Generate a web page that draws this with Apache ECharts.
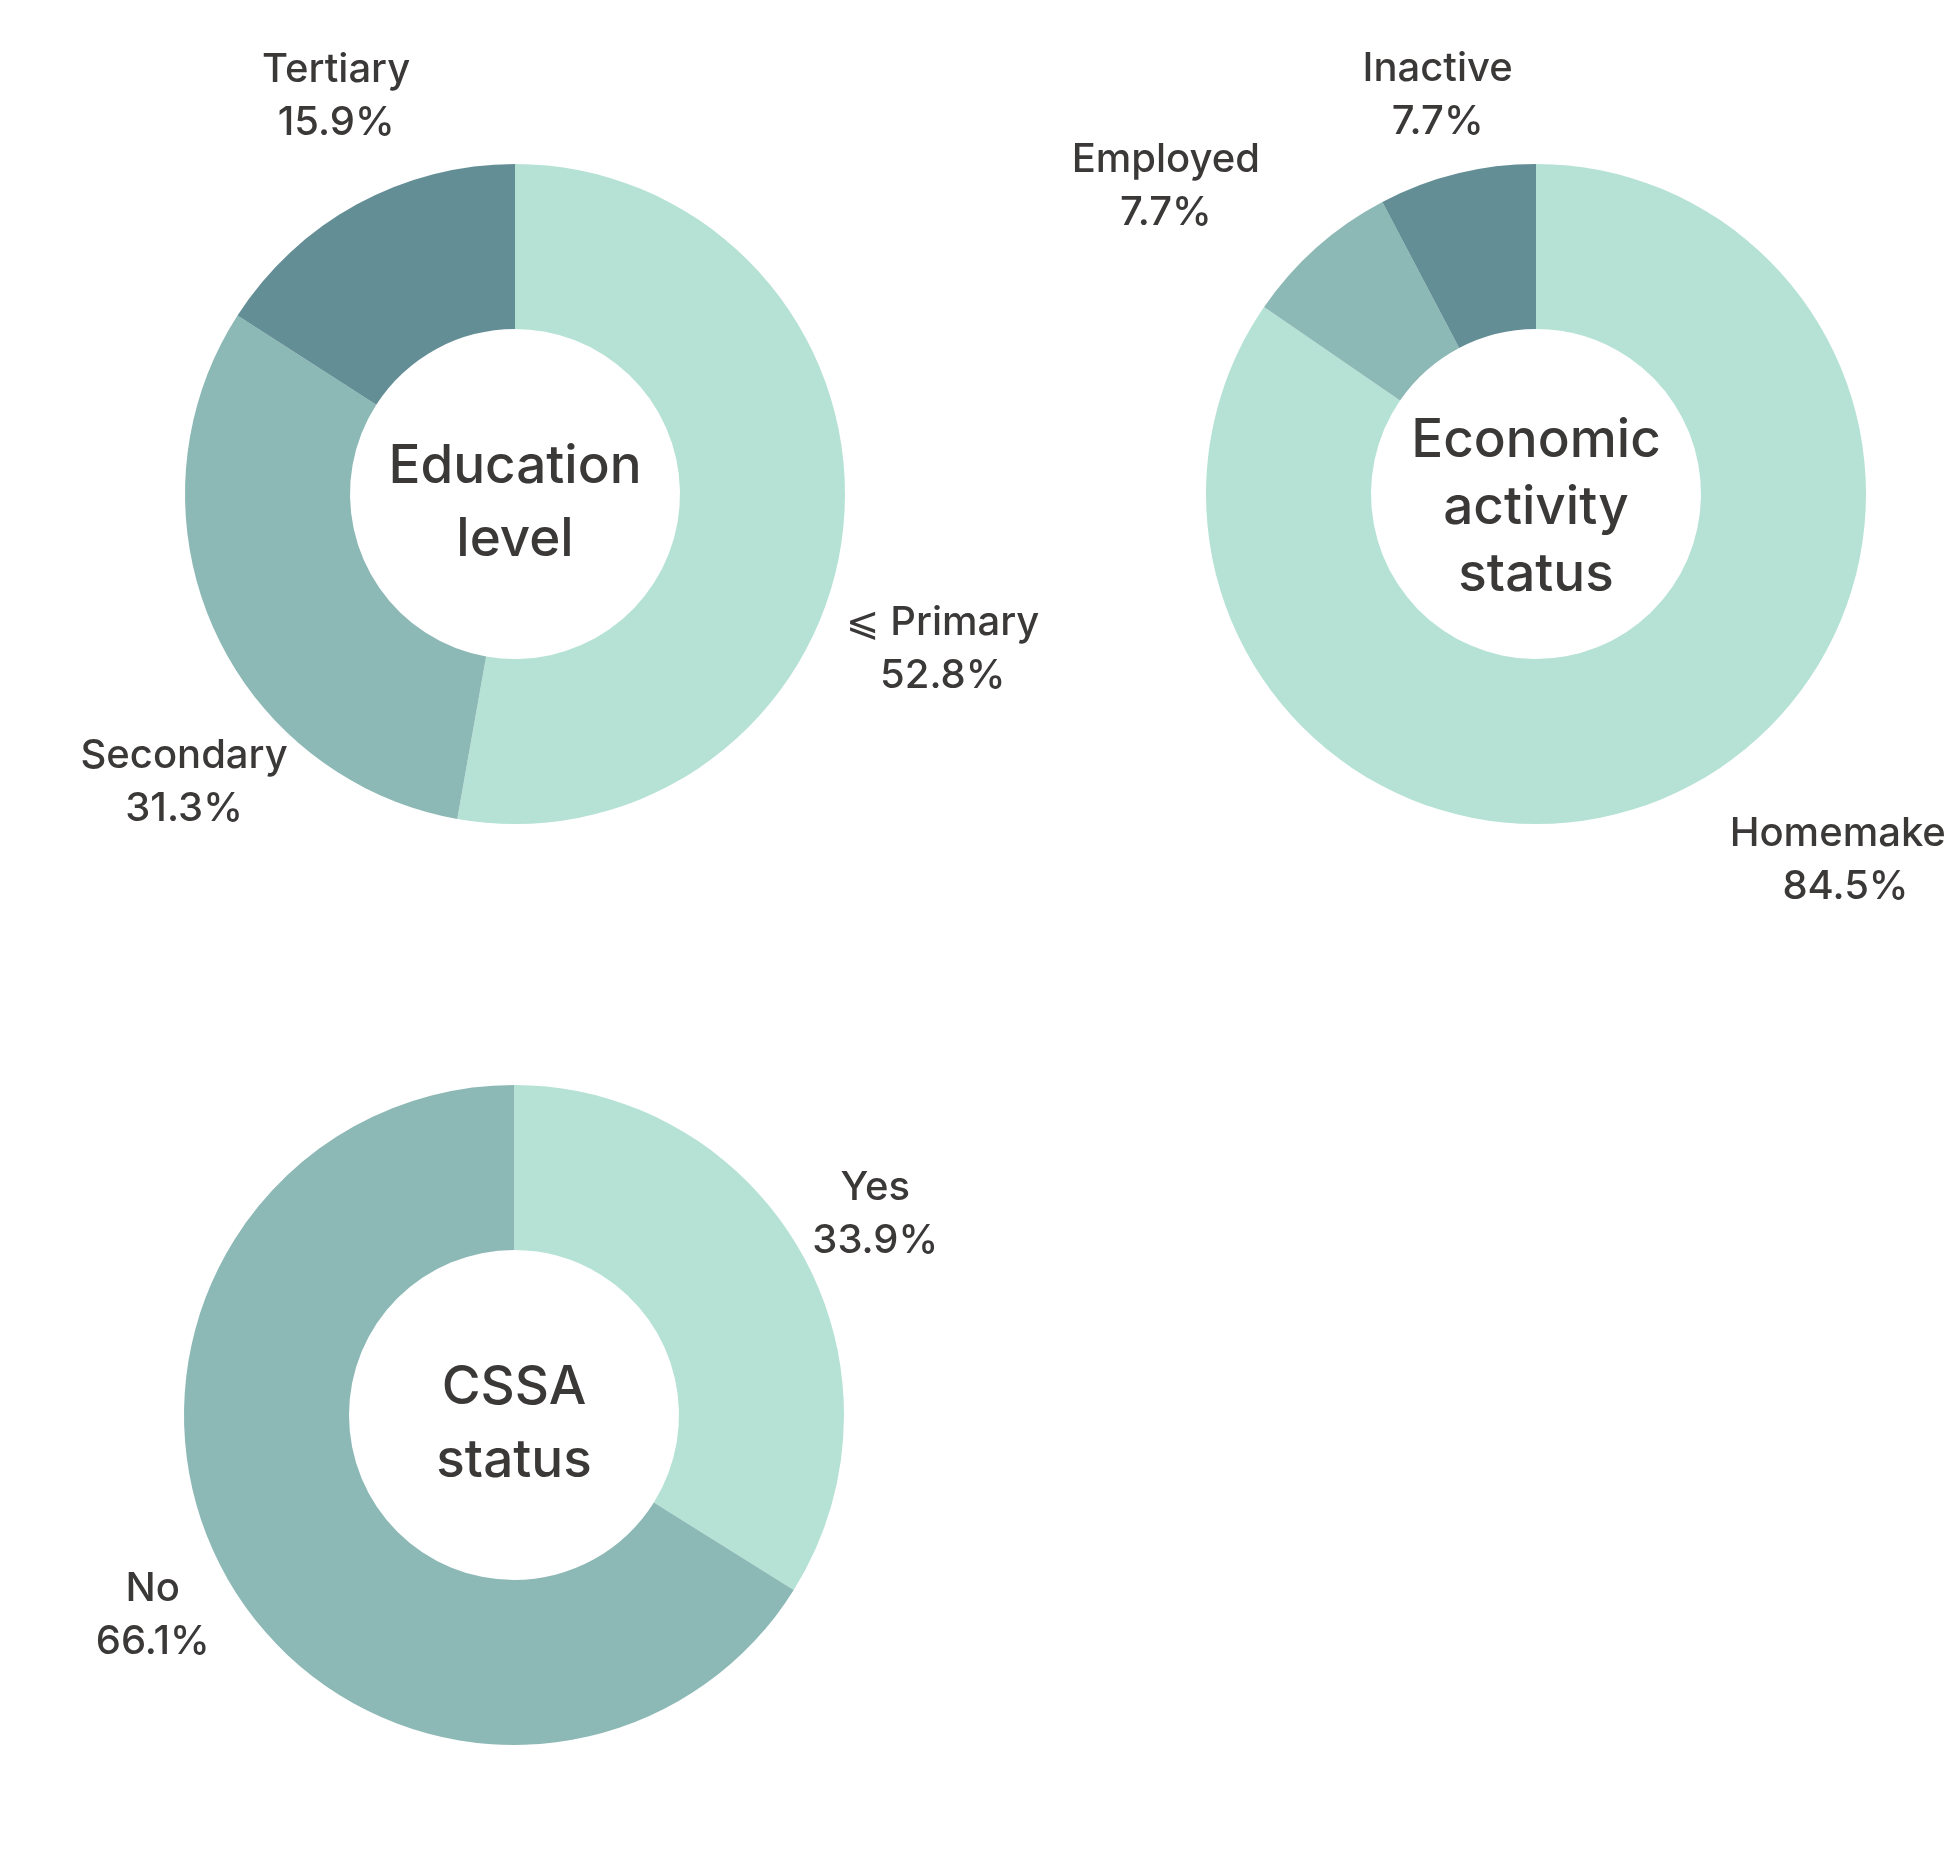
<!DOCTYPE html>
<html>
<head>
<meta charset="utf-8">
<script src="https://cdn.jsdelivr.net/npm/echarts@6/dist/echarts.min.js"></script>
<style>
html,body{margin:0;padding:0;background:#fff;}
#chart{width:1944px;height:1870px;}
</style>
</head>
<body>
<div id="chart"></div>
<script>
// ---- data ----
const eduCategories = ['\u2A7D Primary', 'Secondary', 'Tertiary'];
const eduValues = [52.8, 31.3, 15.9];
const econCategories = ['Homemaker', 'Employed', 'Inactive'];
const econValues = [84.5, 7.7, 7.7];
const cssaCategories = ['Yes', 'No'];
const cssaValues = [33.9, 66.1];
const centerTitles = ['Education\nlevel', 'Economic\nactivity\nstatus', 'CSSA\nstatus'];

// ---- layout / style ----
const COLORS = ['#b5e2d4', '#8cb8b6', '#648e96'];
const TEXT = '#3b3838';
const FONT = 'Inter, "DejaVu Sans", "Noto Sans", sans-serif';
const R_OUT = 330, R_IN = 165;
const CENTERS = [[515, 494], [1536, 494], [514, 1415]];
// label placement: [angle offset from slice mid-angle (deg), distance from centre (px)]
const LABEL_PLACE = [
  [[14.9, 455], [-17.5, 439], [4.4, 436]],
  [[-12.4, 480], [-8.7, 481], [0, 410]],
  [[0, 413], [0, 413]]
];
const CENTER_LH = [73, 67, 73];
const CENTER_DY = [10, 14, 10];

const seriesData = [
  [eduCategories, eduValues],
  [econCategories, econValues],
  [cssaCategories, cssaValues]
];

function midAngles(values) {
  const total = values.reduce((a, b) => a + b, 0);
  let acc = 0;
  return values.map(v => {
    const m = (acc + v / 2) / total * 360;
    acc += v;
    return m;
  });
}
const MIDS = seriesData.map(s => midAngles(s[1]));

const chart = echarts.init(document.getElementById('chart'), null, {renderer: 'canvas'});

const series = seriesData.map((s, si) => ({
  type: 'pie',
  center: CENTERS[si],
  radius: [R_IN, R_OUT],
  startAngle: 90,
  clockwise: true,
  avoidLabelOverlap: false,
  silent: true,
  animation: false,
  itemStyle: {borderWidth: 0},
  label: {
    show: true,
    position: 'outside',
    formatter: p => p.name + '\n' + p.value.toFixed(1) + '%',
    color: TEXT,
    fontFamily: FONT,
    fontSize: 40,
    fontWeight: 500,
    lineHeight: 53,
    align: 'center'
  },
  labelLine: {show: false},
  labelLayout: function (params) {
    const pl = LABEL_PLACE[si][params.dataIndex];
    const ang = (MIDS[si][params.dataIndex] + pl[0]) * Math.PI / 180;
    return {
      x: CENTERS[si][0] + pl[1] * Math.sin(ang),
      y: CENTERS[si][1] - pl[1] * Math.cos(ang),
      align: 'center',
      verticalAlign: 'middle'
    };
  },
  data: s[0].map((n, i) => ({name: n, value: s[1][i], itemStyle: {color: COLORS[i]}}))
}));

const graphics = centerTitles.map((t, i) => ({
  type: 'text',
  x: CENTERS[i][0],
  y: CENTERS[i][1] + CENTER_DY[i],
  style: {
    text: t,
    fill: TEXT,
    font: '500 53px ' + FONT,
    lineHeight: CENTER_LH[i],
    align: 'center',
    verticalAlign: 'middle'
  },
  z: 100
}));

chart.setOption({
  backgroundColor: '#ffffff',
  animation: false,
  series: series,
  graphic: graphics
});
</script>
</body>
</html>
